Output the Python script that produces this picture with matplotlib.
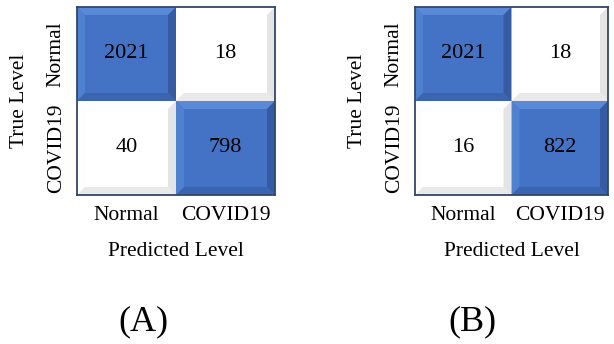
import matplotlib
matplotlib.use("Agg")
import matplotlib.pyplot as plt
from matplotlib.patches import Polygon, Rectangle

plt.rcParams["font.family"] = ["Liberation Serif", "DejaVu Serif"]

classes = ["Normal", "COVID19"]
cm_a = [[2021, 18], [40, 798]]
cm_b = [[2021, 18], [16, 822]]
panel_tags = ["(A)", "(B)"]

W, H = 614, 344
fig = plt.figure(figsize=(W / 100, H / 100), dpi=100)

# bevel shading: face, top, left, bottom, right
BLUE = ["#4472C4", "#5A89D8", "#5080D0", "#3B65AE", "#355CA2"]
WHITE = ["#FFFFFF", "#FFFFFF", "#FDFDFD", "#E9E9E9", "#E4E4E4"]


def bevel_cell(ax, col, row, shades, bx, by):
    x0, x1 = col, col + 1
    y0, y1 = row, row + 1  # y axis inverted: y0 is the top edge
    face, top, left, bottom, right = shades
    ax.add_patch(Rectangle((x0, y0), 1, 1, facecolor=face, edgecolor="none"))
    ax.add_patch(Polygon([(x0, y0), (x1, y0), (x1 - bx, y0 + by), (x0 + bx, y0 + by)],
                         facecolor=top, edgecolor="none"))
    ax.add_patch(Polygon([(x0, y0), (x0 + bx, y0 + by), (x0 + bx, y1 - by), (x0, y1)],
                         facecolor=left, edgecolor="none"))
    ax.add_patch(Polygon([(x0, y1), (x0 + bx, y1 - by), (x1 - bx, y1 - by), (x1, y1)],
                         facecolor=bottom, edgecolor="none"))
    ax.add_patch(Polygon([(x1, y0), (x1, y1), (x1 - bx, y1 - by), (x1 - bx, y0 + by)],
                         facecolor=right, edgecolor="none"))


def draw_matrix(rect, cm, tag, tag_x):
    left, top, w, h = rect
    ax = fig.add_axes([left / W, (H - top - h) / H, w / W, h / H])
    ax.set_xlim(0, 2)
    ax.set_ylim(2, 0)
    bx = 2 * 8 / w
    by = 2 * 8 / h
    for r in range(2):
        for c in range(2):
            shades = BLUE if r == c else WHITE
            bevel_cell(ax, c, r, shades, bx, by)
            ax.text(c + 0.5, r + 0.5, str(cm[r][c]), ha="center", va="center",
                    fontsize=16, color="black")
    ax.set_xticks([0.5, 1.5], classes, fontsize=15.5)
    ax.set_yticks([0.5, 1.5], classes, fontsize=15.5, rotation=90, va="center")
    ax.tick_params(length=0, pad=8)
    ax.set_xlabel("Predicted Level", fontsize=15.5, labelpad=12)
    ax.set_ylabel("True Level", fontsize=15.5, labelpad=13)
    for s in ax.spines.values():
        s.set_color("#33476A")
        s.set_linewidth(1.3)
    ax.text(tag_x, -0.675, tag, transform=ax.transAxes, ha="center", va="center",
            fontsize=26)
    return ax


draw_matrix((77, 7, 198, 188), cm_a, panel_tags[0], 0.335)
draw_matrix((415, 7, 193, 188), cm_b, panel_tags[1], 0.30)

fig.savefig("out.png", dpi=100, facecolor="white")
